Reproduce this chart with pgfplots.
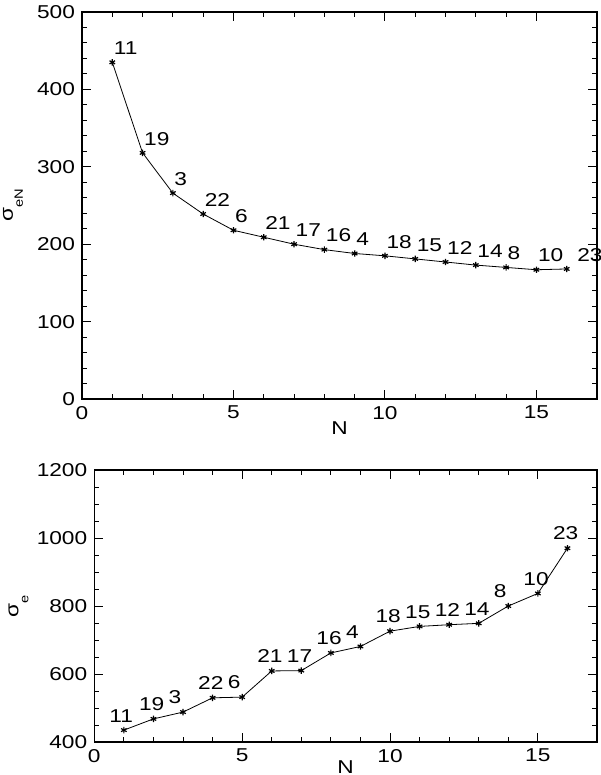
\documentclass[border=0pt]{standalone}
\usepackage{fontspec}
\setmainfont{Liberation Sans}[FakeStretch=1.22]
\usepackage{pgfplots}
\usepackage{pgfplotstable}
\pgfplotsset{compat=1.18}

% N, sigma_eN, label shift, label
\pgfplotstableread{
N s dx lab
1 435 0 11
2 318 0 19
3 266 0 3
4 239 0 22
5 218 0 6
6 209 0 21
7 200 0 17
8 193 0 16
9 188 0 4
10 185 0 18
11 181 0 15
12 177 0 12
13 173 0 14
14 170 0 8
15 167 0 10
16 168 4.5 23
}\topdata

% N, sigma_e, label
\pgfplotstableread{
N s lab
1 435 11
2 468 19
3 488 3
4 530 22
5 532 6
6 609 21
7 610 17
8 662 16
9 681 4
10 726 18
11 740 15
12 745 12
13 749 14
14 800 8
15 837 10
16 970 23
}\botdata

\pgfplotsset{
  idl/.style={
    scale only axis,
    xmin=0, xmax=17,
    xtick={0,5,10,15},
    minor x tick num=4,
    tick align=inside,
    tick pos=both,
    major tick length=4.5pt,
    minor tick length=2.5pt,
    axis line style={line width=0.75pt},
    every tick/.style={black, line width=0.5pt},
    /pgf/number format/assume math mode=true,
    /pgf/number format/set thousands separator={},
    xlabel={N},
    xlabel style={at={(axis description cs:0.5,0)}, anchor=north, inner sep=0pt},
  },
  ptline/.style={black, line width=0.4pt, mark=asterisk, mark size=1.6pt,
    mark options={line width=0.6pt}},
}

\begin{document}
\begin{tikzpicture}[font=\fontsize{9.3}{11}\selectfont]
\begin{axis}[idl,
  at={(41pt,-199.5pt)}, anchor=south west,
  width=257.5pt, height=193.5pt,
  ymin=0, ymax=500,
  ytick={0,100,200,300,400,500},
  minor y tick num=4,
  xlabel style={yshift=-11pt},
  ylabel={σ\raisebox{-5pt}{\fontsize{6}{7}\selectfont eN}},
  ylabel style={at={(axis description cs:0,0.5)}, anchor=base, yshift=34.5pt},
]
\addplot[ptline,
  visualization depends on={\thisrow{dx}\as\dx},
  nodes near coords, point meta=explicit symbolic,
  every node near coord/.append style={anchor=south west, inner sep=0pt,
    xshift=0.5pt+\dx pt, yshift=3.5pt, font=\fontsize{9.3}{11}\selectfont}]
  table[x=N, y=s, meta=lab] {\topdata};
\end{axis}

\begin{axis}[idl,
  at={(47.15pt,-371pt)}, anchor=south west,
  width=251.35pt, height=136pt,
  ymin=400, ymax=1200,
  ytick={400,600,800,1000,1200},
  minor y tick num=3,
  xlabel style={yshift=-9pt},
  ylabel={σ\raisebox{-5pt}{\fontsize{6}{7}\selectfont e}},
  ylabel style={at={(axis description cs:0,0.5)}, anchor=base, yshift=38pt},
]
\addplot[ptline,
  nodes near coords, point meta=explicit symbolic,
  every node near coord/.append style={anchor=south west, inner sep=0pt,
    xshift=-7.5pt, yshift=3.75pt, font=\fontsize{9.3}{11}\selectfont}]
  table[x=N, y=s, meta=lab] {\botdata};
\end{axis}
\pgfresetboundingbox
\path (0,0) rectangle (300pt,-387.5pt);
\end{tikzpicture}
\end{document}
